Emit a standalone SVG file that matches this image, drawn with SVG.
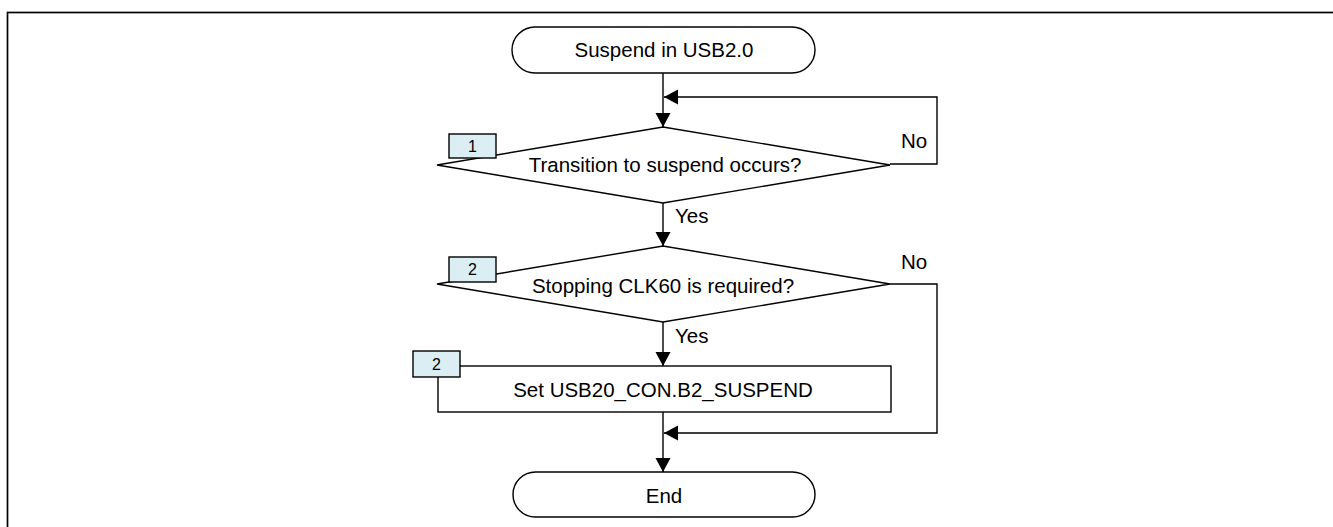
<svg xmlns="http://www.w3.org/2000/svg" width="1333" height="527" viewBox="0 0 1333 527">
<style>
.shape{fill:#fff;stroke:#000;stroke-width:1.4}
.badge{fill:#dbeef4;stroke:#000;stroke-width:1.4}
.conn{fill:none;stroke:#000;stroke-width:1.4}
text{font-family:"Liberation Sans",Arial,sans-serif;font-size:20.5px;fill:#000}
.c{text-anchor:middle}
.bt{font-size:16px}
</style>
<defs>
<marker id="arr" markerUnits="userSpaceOnUse" markerWidth="16" markerHeight="16" refX="14" refY="7.5" orient="auto">
<path d="M0,0 L14,7.5 L0,15 Z" fill="#000"/>
</marker>
</defs>
<rect x="7.5" y="12.5" width="1340" height="530" fill="none" stroke="#000" stroke-width="1.7"/>
<g id="connectors">
<line class="conn" x1="663" y1="73" x2="663" y2="127" marker-end="url(#arr)"/>
<polyline class="conn" points="890,164 937,164 937,97 664,97" marker-end="url(#arr)"/>
<line class="conn" x1="663" y1="203" x2="663" y2="246" marker-end="url(#arr)"/>
<line class="conn" x1="663" y1="322" x2="663" y2="366" marker-end="url(#arr)"/>
<line class="conn" x1="663" y1="412" x2="663" y2="472" marker-end="url(#arr)"/>
<polyline class="conn" points="890,284 937,284 937,433 664,433" marker-end="url(#arr)"/>
<text x="675" y="223">Yes</text>
<text x="675" y="343">Yes</text>
<text x="901" y="148">No</text>
<text x="901" y="269">No</text>
</g>
<g id="start">
<rect class="shape" x="512" y="27" width="303" height="46" rx="23"/>
<text class="c" x="664" y="57">Suspend in USB2.0</text>
</g>
<g id="decision1">
<polygon class="shape" points="663,127 890,165 663,203 437,165"/>
<text class="c" x="665" y="172">Transition to suspend occurs?</text>
<rect class="badge" x="449" y="134" width="47" height="24"/>
<text class="c bt" x="472.5" y="152">1</text>
</g>
<g id="decision2">
<polygon class="shape" points="663,246 890,284 663,322 437,284"/>
<text class="c" x="663" y="293">Stopping CLK60 is required?</text>
<rect class="badge" x="449" y="257" width="47" height="25"/>
<text class="c bt" x="472.5" y="275">2</text>
</g>
<g id="process">
<rect class="shape" x="438" y="366" width="453" height="46"/>
<text class="c" x="663" y="397">Set USB20_CON.B2_SUSPEND</text>
<rect class="badge" x="413" y="351" width="47" height="26"/>
<text class="c bt" x="436.5" y="370">2</text>
</g>
<g id="end">
<rect class="shape" x="513" y="472" width="302" height="45" rx="22.5"/>
<text class="c" x="664" y="503">End</text>
</g>
</svg>
